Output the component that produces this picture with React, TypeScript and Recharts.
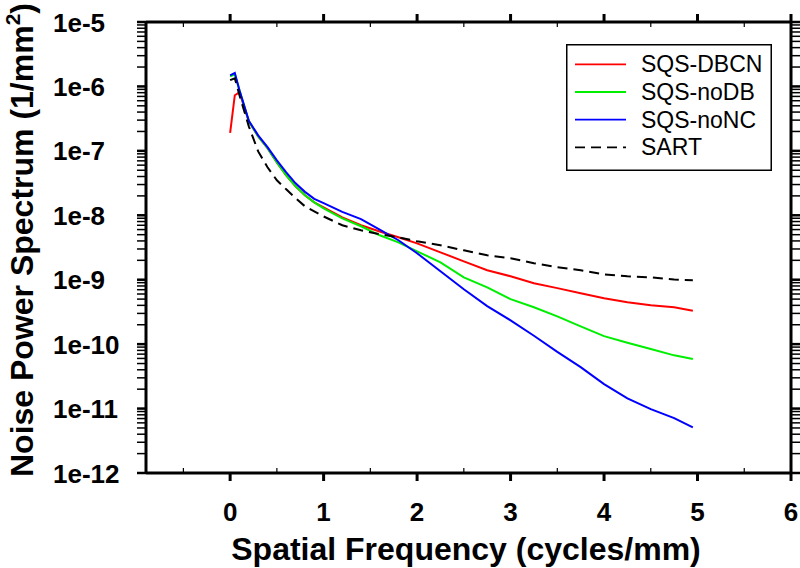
import React from 'react';
import { LineChart, Line, XAxis, YAxis } from 'recharts';

const freq = [0, 0.05, 0.1, 0.2, 0.3, 0.4, 0.5, 0.6, 0.7, 0.8, 0.9, 1.0, 1.2, 1.4, 1.6, 1.8, 2.0, 2.25, 2.5, 2.75, 3.0, 3.25, 3.5, 3.75, 4.0, 4.25, 4.5, 4.75, 4.95];
const sqsDbcn = [1.9e-7, 7.3e-7, 8.1e-7, 2.88e-7, 1.68e-7, 1.10e-7, 6.6e-8, 4.18e-8, 2.82e-8, 2.04e-8, 1.59e-8, 1.33e-8, 9.3e-9, 7.0e-9, 5.6e-9, 4.55e-9, 3.67e-9, 2.66e-9, 1.93e-9, 1.40e-9, 1.13e-9, 8.8e-10, 7.4e-10, 6.15e-10, 5.15e-10, 4.46e-10, 4.0e-10, 3.73e-10, 3.29e-10];
const sqsNoDb = [1.44e-6, 1.54e-6, 8.7e-7, 2.88e-7, 1.68e-7, 1.10e-7, 6.6e-8, 4.18e-8, 2.82e-8, 2.04e-8, 1.59e-8, 1.28e-8, 8.98e-9, 6.75e-9, 4.89e-9, 3.8e-9, 2.76e-9, 1.86e-9, 1.09e-9, 7.6e-10, 5.0e-10, 3.73e-10, 2.70e-10, 1.89e-10, 1.33e-10, 1.05e-10, 8.4e-11, 6.7e-11, 5.9e-11];
const sqsNoNc = [1.49e-6, 1.62e-6, 8.7e-7, 2.92e-7, 1.74e-7, 1.14e-7, 7.1e-8, 4.65e-8, 3.13e-8, 2.31e-8, 1.80e-8, 1.54e-8, 1.13e-8, 8.7e-9, 6.0e-9, 4.1e-9, 2.57e-9, 1.35e-9, 7.1e-10, 3.9e-10, 2.34e-10, 1.35e-10, 7.6e-11, 4.4e-11, 2.4e-11, 1.44e-11, 9.8e-12, 7.1e-12, 5.1e-12];
const sart = [1.25e-6, 1.34e-6, 7.3e-7, 2.40e-7, 9.8e-8, 5.56e-8, 3.49e-8, 2.53e-8, 1.84e-8, 1.38e-8, 1.15e-8, 9.6e-9, 7.0e-9, 5.85e-9, 5.1e-9, 4.55e-9, 3.94e-9, 3.42e-9, 2.86e-9, 2.39e-9, 2.15e-9, 1.80e-9, 1.56e-9, 1.40e-9, 1.21e-9, 1.13e-9, 1.09e-9, 1.01e-9, 9.8e-10];

const seriesKeys = ['dbcn', 'nodb', 'nonc', 'sart'];
const seriesNames = ['SQS-DBCN', 'SQS-noDB', 'SQS-noNC', 'SART'];
const seriesColors = ['#ff0000', '#00ee00', '#0000ff', '#000000'];
const seriesDash = [undefined, undefined, undefined, '10 6'];
const xTitle = 'Spatial Frequency (cycles/mm)';
const yTitle = 'Noise Power Spectrum (1/mm';
const xTicks = [-0.5, 0, 0.5, 1, 1.5, 2, 2.5, 3, 3.5, 4, 4.5, 5, 5.5, 6];
const decades = [-12, -11, -10, -9, -8, -7, -6, -5];
const minorMultipliers = [2, 3, 4, 5, 6, 7, 8, 9];

const yTicks: number[] = [];
decades.forEach((e) => {
  yTicks.push(Number(Math.pow(10, e).toPrecision(3)));
  if (e < -5) minorMultipliers.forEach((k) => yTicks.push(Number((k * Math.pow(10, e)).toPrecision(3))));
});

const data = freq.map((f, i) => ({
  f,
  dbcn: sqsDbcn[i],
  nodb: sqsNoDb[i],
  nonc: sqsNoNc[i],
  sart: sart[i],
}));

const FONT = '"Liberation Sans", Arial, Helvetica, sans-serif';

const isInt = (v: number) => Math.abs(v - Math.round(v)) < 1e-6;
const isDecade = (v: number) => isInt(Math.log10(v));

const BottomTick = (props: any) => {
  const { x, y, payload } = props;
  const v = payload.value;
  const major = isInt(v);
  return (
    <g>
      {major ? (
        <line x1={x} x2={x} y1={y} y2={y + 8} stroke="#000" strokeWidth={3} />
      ) : (
        <line x1={x} x2={x} y1={y} y2={y - 5} stroke="#000" strokeWidth={1.2} />
      )}
      {major && (
        <text x={x} y={y + 48} textAnchor="middle" fontSize={26} fontWeight="bold" fontFamily={FONT} fill="#000">
          {String(v)}
        </text>
      )}
    </g>
  );
};

const TopTick = (props: any) => {
  const { x, y, payload } = props;
  const major = isInt(payload.value);
  return (
    <g>
      {major ? (
        <line x1={x} x2={x} y1={y} y2={y - 8} stroke="#000" strokeWidth={3} />
      ) : (
        <line x1={x} x2={x} y1={y} y2={y + 5} stroke="#000" strokeWidth={1.2} />
      )}
    </g>
  );
};

const LeftTick = (props: any) => {
  const { x, y, payload } = props;
  const v = payload.value;
  const dec = isDecade(v);
  return (
    <g>
      <line x1={x} x2={x - 9} y1={y} y2={y} stroke="#000" strokeWidth={dec ? 2.5 : 1.5} />
      {dec && (
        <text x={x - 93} y={y + 9.5} textAnchor="start" fontSize={26} fontWeight="bold" fontFamily={FONT} fill="#000">
          {`1e${Math.round(Math.log10(v))}`}
        </text>
      )}
    </g>
  );
};

const RightTick = (props: any) => {
  const { x, y, payload } = props;
  const dec = isDecade(payload.value);
  return (
    <g>
      <line x1={x} x2={x + 9} y1={y} y2={y} stroke="#000" strokeWidth={dec ? 2.5 : 1.5} />
    </g>
  );
};

const Overlay = () => (
  <svg width={800} height={568} style={{ position: 'absolute', left: 0, top: 0, pointerEvents: 'none' }}>
    <text x={466} y={560} textAnchor="middle" fontSize={32} fontWeight="bold" fontFamily={FONT} fill="#000">
      {xTitle}
    </text>
    <text x={33} y={240} transform="rotate(-90 33 240)" textAnchor="middle" fontSize={32} fontWeight="bold" fontFamily={FONT} fill="#000">
      {yTitle}<tspan fontSize={21} dy={-13}>2</tspan><tspan dy={13}>)</tspan>
    </text>
    <g transform="translate(566 44)">
      <rect x={0.75} y={0.75} width={204.5} height={125.5} fill="#fff" stroke="#000" strokeWidth={1.5} />
      {seriesNames.map((name, i) => {
        const cy = 20.3 + i * 27.7;
        return (
          <g key={name}>
            <line x1={9} x2={60} y1={cy} y2={cy} stroke={seriesColors[i]} strokeWidth={1.8} strokeDasharray={seriesDash[i]} />
            <text x={75} y={cy + 8} fontSize={23} fontFamily={FONT} fill="#000">{name}</text>
          </g>
        );
      })}
    </g>
  </svg>
);

export default function App() {
  return (
    <div style={{ position: 'absolute', left: 0, top: 0 }}>
      <LineChart width={800} height={568} data={data} margin={{ top: 0, right: 0, bottom: 0, left: 0 }}>
        <XAxis xAxisId="b" dataKey="f" type="number" domain={[-0.9, 6]} ticks={xTicks} interval={0} allowDataOverflow orientation="bottom" height={95} tickSize={0} tickMargin={0} tickLine={false} axisLine={{ stroke: '#000', strokeWidth: 3 }} tick={<BottomTick />} />
        <XAxis xAxisId="t" dataKey="f" type="number" domain={[-0.9, 6]} ticks={xTicks} interval={0} allowDataOverflow orientation="top" height={22} tickSize={0} tickMargin={0} tickLine={false} axisLine={{ stroke: '#000', strokeWidth: 3 }} tick={<TopTick />} />
        <YAxis yAxisId="l" scale="log" type="number" domain={[1e-12, 1e-5]} ticks={yTicks} interval={0} allowDataOverflow orientation="left" width={146} tickSize={0} tickMargin={0} tickLine={false} axisLine={{ stroke: '#000', strokeWidth: 3 }} tick={<LeftTick />} />
        <YAxis yAxisId="r" scale="log" type="number" domain={[1e-12, 1e-5]} ticks={yTicks} interval={0} allowDataOverflow orientation="right" width={9} tickSize={0} tickMargin={0} tickLine={false} axisLine={{ stroke: '#000', strokeWidth: 3 }} tick={<RightTick />} />
        {seriesKeys.map((k, i) => (
          <Line
            key={k}
            xAxisId="b"
            yAxisId="l"
            name={seriesNames[i]}
            dataKey={k}
            stroke={seriesColors[i]}
            strokeWidth={2}
            strokeDasharray={seriesDash[i]}
            dot={false}
            type="linear"
            isAnimationActive={false}
          />
        ))}
      </LineChart>
      <Overlay />
    </div>
  );
}
